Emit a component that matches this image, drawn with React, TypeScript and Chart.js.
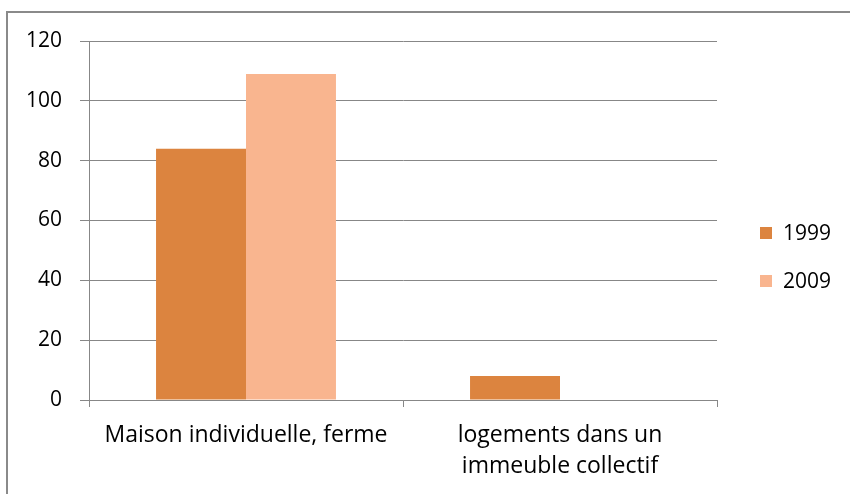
import React, { useEffect, useRef } from "react";
import { Chart, registerables } from "chart.js";

Chart.register(...registerables);

const categories: (string | string[])[] = [
  "Maison individuelle, ferme",
  ["logements dans un", "immeuble collectif"],
];
const seriesNames = ["1999", "2009"];
const values1999 = [84, 8];
const values2009 = [109, 0];
const yTicks = [0, 20, 40, 60, 80, 100, 120];

const COLOR_1999 = "#DC843F";
const COLOR_2009 = "#F9B58F";
const GRID = "#878787";
const FONT = "'Open Sans', sans-serif";

const legendPlugin = {
  id: "customLegend",
  afterDraw(chart: any) {
    const ctx = chart.ctx;
    const area = chart.chartArea;
    ctx.save();
    ctx.font = `21px ${FONT}`;
    ctx.textBaseline = "middle";
    ctx.textAlign = "left";
    chart.data.datasets.forEach((ds: any, i: number) => {
      const cy = 233 + i * 48;
      const x = area.right + 43;
      ctx.fillStyle = ds.backgroundColor;
      ctx.fillRect(x, cy - 6, 12, 12);
      ctx.fillStyle = "#000";
      ctx.fillText(ds.label, x + 23, cy + 1);
    });
    ctx.restore();
  },
};

export default function App() {
  const ref = useRef<HTMLCanvasElement | null>(null);
  useEffect(() => {
    if (!ref.current) return;
    const chart = new Chart(ref.current, {
      type: "bar",
      data: {
        labels: categories as any,
        datasets: [
          { label: seriesNames[0], data: values1999, backgroundColor: COLOR_1999 },
          { label: seriesNames[1], data: values2009, backgroundColor: COLOR_2009 },
        ],
      },
      plugins: [legendPlugin],
      options: {
        animation: false,
        responsive: false,
        maintainAspectRatio: false,
        layout: { padding: { left: 0, top: 41, right: 133, bottom: 0 } },
        plugins: { legend: { display: false }, tooltip: { enabled: false } },
        datasets: { bar: { categoryPercentage: 0.573, barPercentage: 1 } },
        scales: {
          x: {
            afterFit: (s: any) => { s.height = 94; },
            grid: { drawOnChartArea: false, drawTicks: true, tickLength: 7, color: GRID, offset: true },
            border: { display: true, color: GRID, width: 1 },
            ticks: { color: "#000", font: { family: FONT, size: 23, lineHeight: 1.35 }, padding: 13, maxRotation: 0, autoSkip: false },
          },
          y: {
            min: 0,
            max: 120,
            afterFit: (s: any) => { s.width = 89; },
            afterBuildTicks: (s: any) => { s.ticks = yTicks.map((v) => ({ value: v })); },
            grid: { color: GRID, tickLength: 9, drawTicks: true },
            border: { display: true, color: GRID, width: 1 },
            ticks: { color: "#000", font: { family: FONT, size: 21 }, padding: 18 },
          },
        },
      },
    });
    return () => chart.destroy();
  }, []);
  return (
    <div style={{ position: "absolute", left: 0, top: 0, width: 850, height: 494, background: "#fff", overflow: "hidden" }}>
      <div style={{ position: "absolute", left: 6, top: 11, width: 850, height: 500, borderTop: "2px solid #8a8a8a", borderLeft: "2px solid #8a8a8a", boxSizing: "border-box" }} />
      <canvas ref={ref} width={850} height={494} style={{ position: "absolute", left: 0, top: 0 }} />
    </div>
  );
}
